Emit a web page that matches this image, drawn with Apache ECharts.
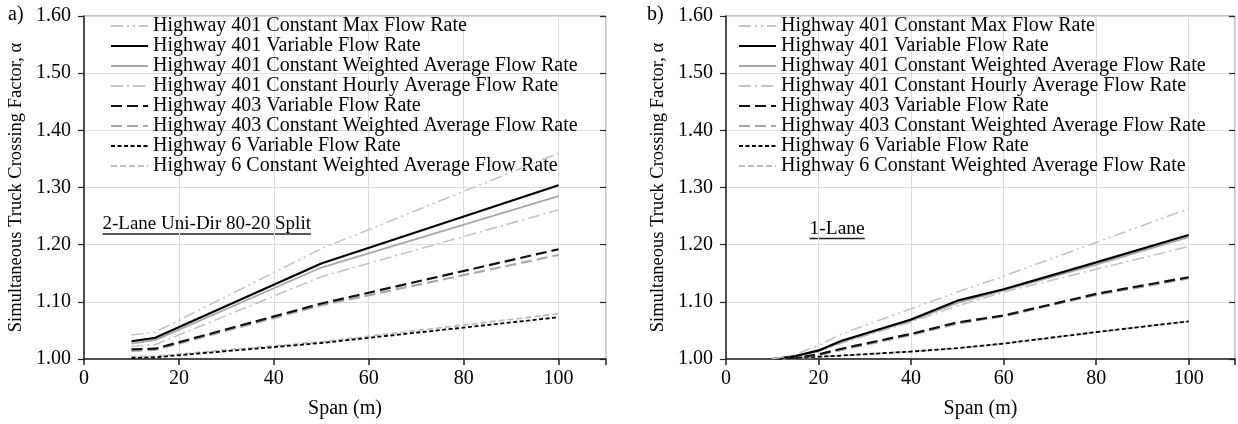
<!DOCTYPE html>
<html>
<head>
<meta charset="utf-8">
<script src="https://cdn.jsdelivr.net/npm/echarts@6/dist/echarts.min.js"></script>
<style>html,body{margin:0;padding:0;background:#fff}#c{width:1238px;height:424px}</style>
</head>
<body>
<div id="c"></div>
<script>
// ---- data ----
var seriesNames = [
  'Highway 401 Constant Max Flow Rate',
  'Highway 401 Variable Flow Rate',
  'Highway 401 Constant Weighted Average Flow Rate',
  'Highway 401 Constant Hourly Average Flow Rate',
  'Highway 403 Variable Flow Rate',
  'Highway 403 Constant Weighted Average Flow Rate',
  'Highway 6 Variable Flow Rate',
  'Highway 6 Constant Weighted Average Flow Rate'
];
var xTicks = [0, 20, 40, 60, 80, 100];
var yTicks = ['1.00', '1.10', '1.20', '1.30', '1.40', '1.50', '1.60'];

// a) 2-Lane Uni-Dir 80-20 Split
var spanA = [10, 15, 50, 100];
var a401Max    = [1.042, 1.047, 1.193, 1.360];
var a401Var    = [1.031, 1.037, 1.167, 1.304];
var a401Wtd    = [1.027, 1.033, 1.160, 1.285];
var a401Hourly = [1.022, 1.025, 1.144, 1.261];
var a403Var    = [1.017, 1.018, 1.097, 1.192];
var a403Wtd    = [1.014, 1.016, 1.094, 1.182];
var a6Var      = [1.002, 1.003, 1.028, 1.073];
var a6Wtd      = [1.004, 1.005, 1.030, 1.079];

// b) 1-Lane
var spanB = [10, 15, 20, 25, 40, 50, 60, 80, 100];
var b401Max    = [1.000, 1.008, 1.024, 1.044, 1.088, 1.117, 1.145, 1.204, 1.263];
var b401Var    = [1.000, 1.005, 1.015, 1.032, 1.069, 1.102, 1.122, 1.169, 1.217];
var b401Wtd    = [1.000, 1.005, 1.014, 1.030, 1.067, 1.098, 1.120, 1.165, 1.213];
var b401Hourly = [1.000, 1.004, 1.013, 1.028, 1.065, 1.093, 1.117, 1.157, 1.197];
var b403Var    = [1.000, 1.002, 1.008, 1.018, 1.044, 1.064, 1.076, 1.114, 1.143];
var b403Wtd    = [1.000, 1.002, 1.007, 1.016, 1.042, 1.062, 1.075, 1.112, 1.141];
var b6Var      = [1.000, 1.002, 1.004, 1.006, 1.013, 1.019, 1.027, 1.047, 1.066];
var b6Wtd      = [1.000, 1.001, 1.004, 1.006, 1.013, 1.019, 1.027, 1.047, 1.066];

var dataA = [a401Max, a401Var, a401Wtd, a401Hourly, a403Var, a403Wtd, a6Var, a6Wtd];
var dataB = [b401Max, b401Var, b401Wtd, b401Hourly, b403Var, b403Wtd, b6Var, b6Wtd];

// ---- styles ----
var styles = [
  {color: '#c4c4c4', width: 1.6, type: [12, 4, 2, 4, 2, 4]},
  {color: '#000000', width: 2.2, type: 'solid'},
  {color: '#a8a8a8', width: 1.8, type: 'solid'},
  {color: '#c4c4c4', width: 1.6, type: [12, 4, 2, 4]},
  {color: '#111111', width: 2.2, type: [11, 5]},
  {color: '#a8a8a8', width: 2.2, type: [11, 5]},
  {color: '#000000', width: 1.8, type: [4, 2.5]},
  {color: '#bdbdbd', width: 1.8, type: [6, 3]}
];

var FONT = 'Liberation Serif';

function pairs(xs, ys) { return xs.map(function (x, i) { return [x, ys[i]]; }); }

var series = [];
[[spanA, dataA], [spanB, dataB]].forEach(function (pack, g) {
  pack[1].forEach(function (ys, i) {
    var st = styles[i];
    series.push({
      name: seriesNames[i], type: 'line', xAxisIndex: g, yAxisIndex: g * 2,
      data: pairs(pack[0], ys), showSymbol: false, symbol: 'none', silent: true,
      animation: false, z: 10 - i,
      lineStyle: {color: st.color, width: st.width, type: st.type},
      itemStyle: {color: st.color}
    });
  });
});

function xAxis(g) {
  return {
    type: 'value', gridIndex: g, min: 0, max: 110, interval: 20,
    name: 'Span (m)', nameLocation: 'middle', nameGap: 40,
    nameTextStyle: {fontFamily: FONT, fontSize: 20, color: '#000'},
    axisLine: {show: true, onZero: false, lineStyle: {color: '#222', width: 1.5}},
    axisTick: {show: true, length: 6, inside: false, lineStyle: {color: '#222', width: 1.5}},
    axisLabel: {fontFamily: FONT, fontSize: 20, color: '#000', margin: 10,
      formatter: function (v) { return xTicks.indexOf(v) >= 0 ? String(v) : ''; }},
    splitLine: {show: true, lineStyle: {color: '#dcdcdc', width: 1}}
  };
}
function yAxis(g) {
  return {
    type: 'value', gridIndex: g, min: 1, max: 1.6, interval: 0.1,
    name: 'Simultaneous Truck Crossing Factor, \u03b1', nameLocation: 'middle', nameGap: 58,
    nameTextStyle: {fontFamily: FONT, fontSize: 18.5, color: '#000'},
    axisLine: {show: true, lineStyle: {color: '#222', width: 1.5}},
    axisTick: {show: true, length: 6, lineStyle: {color: '#222', width: 1.2}},
    axisLabel: {fontFamily: FONT, fontSize: 20, color: '#000', margin: 13,
      formatter: function (v) { var i = Math.round((v - 1) * 10); return yTicks[i] || ''; }},
    splitLine: {show: true, lineStyle: {color: '#dcdcdc', width: 1}}
  };
}
function yInner(g) {
  return {
    type: 'value', gridIndex: g, min: 1, max: 1.6, interval: 0.1,
    axisLine: {show: false},
    axisTick: {show: true, inside: true, length: 6, lineStyle: {color: '#222', width: 1.2}},
    axisLabel: {show: false}, splitLine: {show: false}
  };
}

function legend(left) {
  return {
    orient: 'vertical', left: left, top: 16, itemWidth: 37, itemHeight: 14, itemGap: 0,
    selectedMode: false, data: seriesNames,
    itemStyle: {opacity: 0, borderWidth: 0},
    textStyle: {fontFamily: FONT, fontSize: 20, color: '#000', lineHeight: 20},
    padding: 0
  };
}

var chart = echarts.init(document.getElementById('c'), null, {renderer: 'canvas'});
var option = {
  backgroundColor: '#fff',
  animation: false,
  grid: [
    {left: 84, right: 632, top: 16, bottom: 64, show: true, borderColor: '#8a8a8a', borderWidth: 1},
    {left: 726, right: 2, top: 16, bottom: 64, show: true, borderColor: '#8a8a8a', borderWidth: 1}
  ],
  xAxis: [xAxis(0), xAxis(1)],
  yAxis: [yAxis(0), yInner(0), yAxis(1), yInner(1)],
  legend: [legend(110), legend(738)],
  series: series,
  graphic: [
    {type: 'text', left: 8, top: 5, style: {text: 'a)', font: '20px "' + FONT + '"', fill: '#000'}},
    {type: 'text', left: 647, top: 5, style: {text: 'b)', font: '20px "' + FONT + '"', fill: '#000'}}
  ]
};
chart.setOption(option);

function addNote(x, y, txt, size) {
  var ctx = document.createElement('canvas').getContext('2d');
  ctx.font = size + 'px "' + FONT + '"';
  var w = ctx.measureText(txt).width;
  return {
    type: 'group', left: x, top: y, children: [
      {type: 'text', style: {text: txt, font: size + 'px "' + FONT + '"', fill: '#000'}},
      {type: 'line', shape: {x1: 0, y1: size, x2: w, y2: size}, style: {stroke: '#222', lineWidth: 1.3}}
    ]
  };
}
chart.setOption({graphic: option.graphic.concat([
  addNote(100, 215, '2-Lane Uni-Dir 80-20 Split', 19),
  addNote(807, 219, '1-Lane', 19.5)
])});
</script>
</body>
</html>
